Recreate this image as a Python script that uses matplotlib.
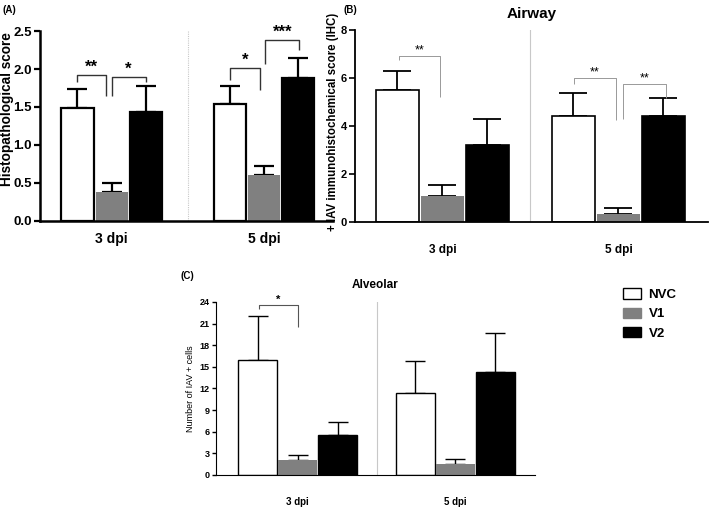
import matplotlib
matplotlib.use("Agg")
from matplotlib import pyplot as plt
from matplotlib.patches import Patch

plt.rcParams["font.family"] = ["Liberation Sans", "DejaVu Sans"]

groups = ["3 dpi", "5 dpi"]
series = ["NVC", "V1", "V2"]
colors = ["white", "#808080", "black"]

# panel A: histopathological score
hist_mean = [[1.49, 0.38, 1.44], [1.54, 0.60, 1.88]]
hist_err = [[0.25, 0.12, 0.33], [0.24, 0.12, 0.27]]
# (group, x from, x to, top, left leg end, right leg end, label)
hist_sig = [
    (0, -1.0, -0.17, 1.92, 1.83, 1.64, "**"),
    (0, 0.0, 1.0, 1.90, 1.64, 1.83, "*"),
    (1, -0.99, -0.13, 2.01, 1.86, 1.72, "*"),
    (1, 0.04, 1.04, 2.38, 2.06, 2.25, "***"),
]

# panel B: airway IHC score
airway_mean = [[5.52, 1.09, 3.20], [4.41, 0.32, 4.41]]
airway_err = [[0.77, 0.44, 1.09], [0.97, 0.24, 0.75]]
airway_sig = [
    (0, -0.97, -0.06, 6.91, 6.75, 5.19, "**"),
    (1, -0.99, -0.06, 5.98, 5.77, 4.27, "**"),
    (1, 0.11, 1.05, 5.73, 4.31, 5.15, "**"),
]

# panel C: alveolar IAV+ cells
alv_mean = [[15.98, 2.04, 5.56], [11.44, 1.48, 14.22]]
alv_err = [[6.02, 0.74, 1.81], [4.41, 0.70, 5.47]]
alv_sig = [
    (0, -0.96, 0.0, 23.58, 23.03, 20.53, "*"),
]


def draw_panel(ax, means, errs, sigs, gap, xlim, width, lw, elw, cap,
               sig_color, sig_lw, sig_size, sig_weight, div_style):
    centers = [0, gap]
    for g, c in enumerate(centers):
        xs = [c - 1, c, c + 1]
        for i in range(3):
            ax.bar(xs[i], means[g][i], width=width, color=colors[i],
                   edgecolor="black" if i != 1 else colors[1],
                   linewidth=lw if i != 1 else 0, zorder=2)
            ax.errorbar(xs[i], means[g][i], yerr=[[0], [errs[g][i]]], fmt="none",
                        ecolor="black", elinewidth=elw, capsize=cap, capthick=elw,
                        zorder=1)
    for g, x1, x2, top, yl, yr, lab in sigs:
        c = centers[g]
        ax.plot([c + x1, c + x1, c + x2, c + x2], [yl, top, top, yr],
                color=sig_color, lw=sig_lw, solid_capstyle="butt", zorder=3)
        ax.text(c + (x1 + x2) / 2, top, lab, ha="center", va="bottom",
                fontsize=sig_size, fontweight=sig_weight)
    ax.axvline(gap / 2, color="#c8c8c8", lw=0.8, ls=div_style, zorder=0)
    ax.set_xlim(*xlim)
    ax.set_xticks(centers)
    ax.set_xticklabels(groups)
    for s in ["top", "right"]:
        ax.spines[s].set_visible(False)
    ax.tick_params(axis="x", length=0)


fig = plt.figure(figsize=(7.09, 5.09), dpi=100)

# (A)
axA = fig.add_axes([0.0564, 0.566, 0.4136, 0.373])
draw_panel(axA, hist_mean, hist_err, hist_sig, 4.47, (-2.1, 6.5), 0.94,
           1.6, 1.6, 7, "#333333", 1.0, 12, "bold", (0, (1, 1)))
axA.set_ylim(0, 2.5)
axA.set_yticks([0, 0.5, 1.0, 1.5, 2.0, 2.5])
axA.set_yticklabels(["0.0", "0.5", "1.0", "1.5", "2.0", "2.5"])
axA.set_ylabel("Histopathological score", fontsize=9.8, fontweight="bold")
axA.yaxis.set_label_coords(-0.087, 0.59)
axA.tick_params(axis="y", labelsize=9.5, width=1.6, length=4, pad=2)
axA.tick_params(axis="x", labelsize=10, pad=8)
for lab in axA.get_xticklabels() + axA.get_yticklabels():
    lab.set_fontweight("bold")
for s in ["left", "bottom"]:
    axA.spines[s].set_linewidth(1.8)
fig.text(0.004, 0.99, "(A)", fontsize=7, fontweight="bold", va="top")

# (B)
axB = fig.add_axes([0.5007, 0.564, 0.4979, 0.377])
draw_panel(axB, airway_mean, airway_err, airway_sig, 3.91, (-1.94, 5.9), 0.95,
           1.2, 1.3, 10, "#999999", 0.7, 9, "normal", "-")
axB.set_ylim(0, 8)
axB.set_yticks([0, 2, 4, 6, 8])
axB.set_ylabel("+ IAV immunohistochemical score (IHC)", fontsize=8.3,
               fontweight="bold")
axB.yaxis.set_label_coords(-0.045, 0.52)
axB.tick_params(axis="y", labelsize=8, width=1.2, length=4, pad=2)
axB.tick_params(axis="x", labelsize=8.5, pad=16)
for lab in axB.get_xticklabels() + axB.get_yticklabels():
    lab.set_fontweight("bold")
for s in ["left", "bottom"]:
    axB.spines[s].set_linewidth(1.3)
axB.set_title("Airway", fontsize=11, fontweight="bold", pad=9)
fig.text(0.484, 0.99, "(B)", fontsize=7, fontweight="bold", va="top")

# (C)
axC = fig.add_axes([0.3047, 0.0668, 0.4499, 0.3399])
draw_panel(axC, alv_mean, alv_err, alv_sig, 3.95, (-2.04, 5.94), 0.97,
           1.0, 1.0, 7, "#555555", 0.8, 8, "bold", "-")
axC.set_ylim(0, 24)
axC.set_yticks(range(0, 25, 3))
axC.set_ylabel("Number of IAV + cells", fontsize=6.5, labelpad=3)
axC.tick_params(axis="y", labelsize=6.5, width=1.0, length=3, pad=1.5)
axC.tick_params(axis="x", labelsize=7, pad=16)
for lab in axC.get_xticklabels() + axC.get_yticklabels():
    lab.set_fontweight("bold")
axC.set_title("Alveolar", fontsize=8.5, fontweight="bold", pad=10)
fig.text(0.254, 0.468, "(C)", fontsize=7, fontweight="bold", va="top")

# legend
handles = [Patch(facecolor=colors[i], edgecolor="black" if i != 1 else colors[1],
                 linewidth=1.0) for i in range(3)]
fig.legend(handles, series, loc="upper left", bbox_to_anchor=(0.870, 0.447),
           frameon=False, prop={"weight": "bold", "size": 9.5},
           handlelength=1.3, handleheight=0.85, handletextpad=0.6,
           labelspacing=0.5, borderpad=0)

fig.savefig("out.png", dpi=100)
